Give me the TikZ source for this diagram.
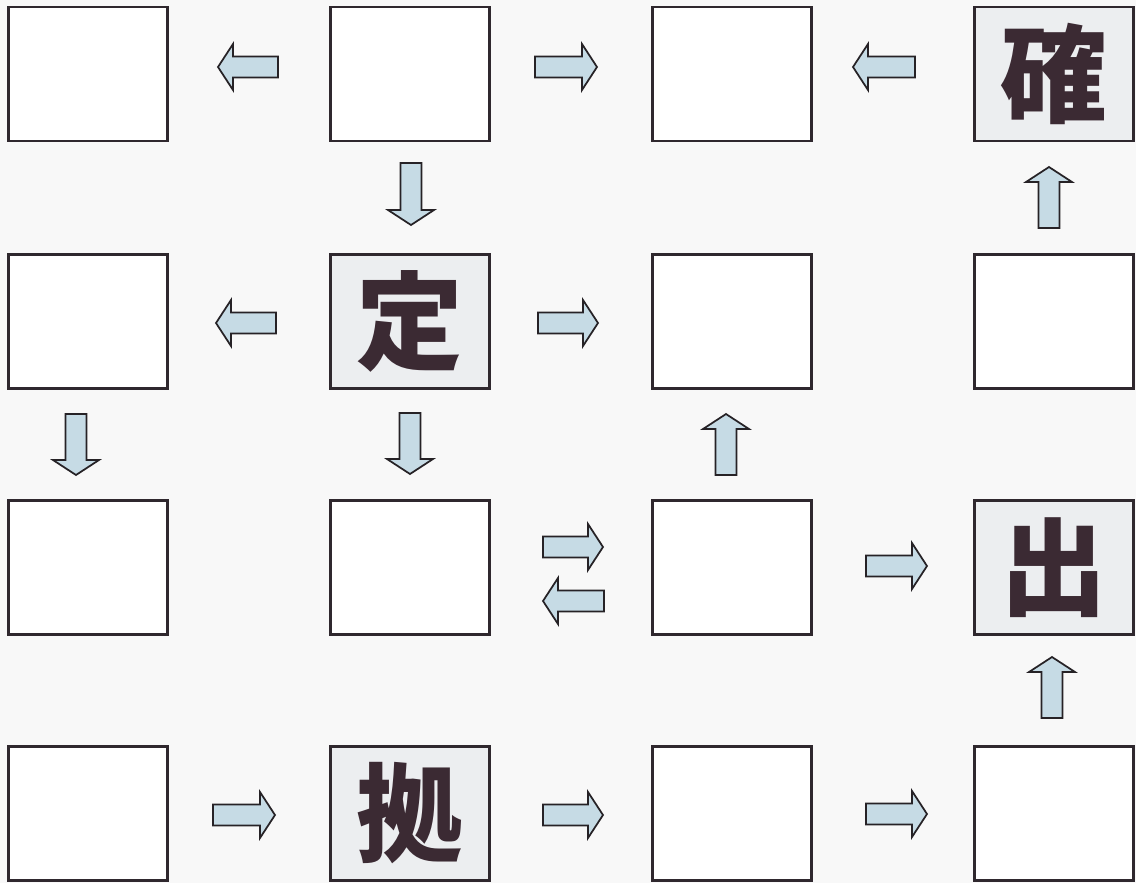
\documentclass[tikz,border=0pt]{standalone}
\usepackage{fontspec}
\newfontfamily\cjk{Noto Sans CJK JP}
\usetikzlibrary{calc}
\definecolor{edge}{HTML}{2F282E}
\definecolor{arrowfill}{HTML}{C6DBE5}
\definecolor{arrowedge}{HTML}{262226}
\definecolor{charcol}{HTML}{3B2A33}
\definecolor{paper}{HTML}{F8F8F8}
\definecolor{markfill}{HTML}{ECEEF0}
\tikzset{
  box/.style={draw=edge, line width=2.2pt, fill=white, minimum width=119pt,
    minimum height=100.5pt, inner sep=0pt, anchor=center},
  markbox/.style={box, fill=markfill, font=\cjk\bfseries\fontsize{80}{80}\selectfont, text=charcol},
  blockarrowstyle/.style={draw=arrowedge, line width=1.3pt, fill=arrowfill, line join=miter},
}
\newcommand{\blockarrow}[2]{%
  \path ($(#2)!11.25pt!(#1)$) coordinate (hb);
  \draw[blockarrowstyle] ($(#1)!7.9pt!90:(#2)$) -- ($(hb)!7.9pt!90:(#2)$)
    -- ($(hb)!17.25pt!90:(#2)$) -- (#2) -- ($(hb)!17.25pt!-90:(#2)$)
    -- ($(hb)!7.9pt!-90:(#2)$) -- ($(#1)!7.9pt!-90:(#2)$) -- cycle;}
\begin{document}
\begin{tikzpicture}[x=0.75pt,y=-0.75pt]
\fill[paper] (0,0) rectangle (1136,883);
\useasboundingbox (0,0) rectangle (1136,883);
% boxes: row 1
\node[box] (b11) at (88,74) {};
\node[box] (b12) at (410,74) {};
\node[box] (b13) at (732,74) {};
\node[markbox] (b14) at (1054,74) {確};
% row 2
\node[box] (b21) at (88,321.5) {};
\node[markbox] (b22) at (410,321.5) {定};
\node[box] (b23) at (732,321.5) {};
\node[box] (b24) at (1054,321.5) {};
% row 3
\node[box] (b31) at (88,567.5) {};
\node[box] (b32) at (410,567.5) {};
\node[box] (b33) at (732,567.5) {};
\node[markbox] (b34) at (1054,567.5) {出};
% row 4
\node[box] (b41) at (88,813.5) {};
\node[markbox] (b42) at (410,813.5) {拠};
\node[box] (b43) at (732,813.5) {};
\node[box] (b44) at (1054,813.5) {};
% arrow end points
\coordinate (a1s) at (278,67);   \coordinate (a1e) at (218,67);
\coordinate (a2s) at (535,67);   \coordinate (a2e) at (597,67);
\coordinate (a3s) at (915,67);   \coordinate (a3e) at (853,67);
\coordinate (a4s) at (411,163);  \coordinate (a4e) at (411,225);
\coordinate (a5s) at (1049,228); \coordinate (a5e) at (1049,167);
\coordinate (a6s) at (276,323);  \coordinate (a6e) at (216,323);
\coordinate (a7s) at (538,323);  \coordinate (a7e) at (598,323);
\coordinate (a8s) at (76,414);   \coordinate (a8e) at (76,475);
\coordinate (a9s) at (410,413);  \coordinate (a9e) at (410,474);
\coordinate (a10s) at (726,475); \coordinate (a10e) at (726,414);
\coordinate (a11s) at (543,547); \coordinate (a11e) at (603,547);
\coordinate (a12s) at (604,601); \coordinate (a12e) at (543,601);
\coordinate (a13s) at (866,566); \coordinate (a13e) at (927,566);
\coordinate (a14s) at (1052,718);\coordinate (a14e) at (1052,657);
\coordinate (a15s) at (213,815); \coordinate (a15e) at (275,815);
\coordinate (a16s) at (543,815); \coordinate (a16e) at (603,815);
\coordinate (a17s) at (866,814); \coordinate (a17e) at (927,814);
\foreach \i in {1,...,17}{\blockarrow{a\i s}{a\i e}}
\end{tikzpicture}
\end{document}
